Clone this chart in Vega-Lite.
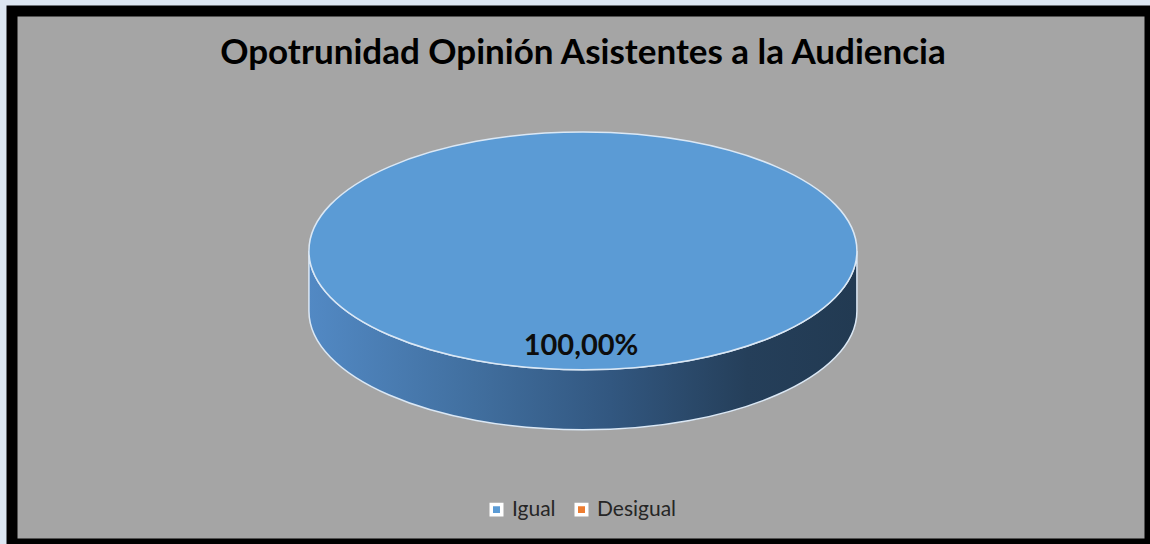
{
  "$schema": "https://vega.github.io/schema/vega-lite/v6.json",
  "autosize": "none",
  "width": 1138,
  "height": 533,
  "padding": {"left": 12, "top": 11, "right": 0, "bottom": 0},
  "background": "#dce6f2",
  "view": {"fill": "#a5a5a5", "stroke": "#000000", "strokeWidth": 11},
  "title": {
    "text": "Opotrunidad Opinión Asistentes a la Audiencia",
    "orient": "top",
    "anchor": "middle",
    "frame": "group",
    "offset": -41,
    "dy": 36,
    "baseline": "middle",
    "font": "Lato",
    "fontSize": 35,
    "fontWeight": "bold",
    "color": "#000000",
    "dx": 2
  },
  "data": {
    "values": [
      {"categoria": "Igual", "valor": 1.0},
      {"categoria": "Desigual", "valor": 0.0}
    ]
  },
  "layer": [
    {
      "mark": {
        "type": "point",
        "filled": true,
        "opacity": 1,
        "shape": "M -0.993 -0.097 L -0.993 0.122 A 1 0.434 0 0 0 1.007 0.122 L 1.007 -0.097 A 1 0.434 0 0 1 -0.993 -0.097 Z",
        "fill": {
          "gradient": "linear",
          "x1": 0, "y1": 0, "x2": 1, "y2": 0,
          "stops": [
            {"offset": 0, "color": "#5289c4"},
            {"offset": 0.3, "color": "#416f9f"},
            {"offset": 0.55, "color": "#325780"},
            {"offset": 0.8, "color": "#253f5a"},
            {"offset": 1, "color": "#223a52"}
          ]
        },
        "stroke": "#dbe8f5",
        "strokeWidth": 1.5
      },
      "encoding": {
        "size": {
          "field": "valor",
          "type": "quantitative",
          "scale": {"domain": [0, 1], "range": [0, 300304]},
          "legend": null
        }
      }
    },
    {
      "mark": {
        "type": "point",
        "filled": true,
        "opacity": 1,
        "shape": "M -0.993 -0.097 A 1 0.434 0 1 0 1.007 -0.097 A 1 0.434 0 1 0 -0.993 -0.097 Z",
        "stroke": "#dbe8f5",
        "strokeWidth": 1.5
      },
      "encoding": {
        "size": {
          "field": "valor",
          "type": "quantitative",
          "scale": {"domain": [0, 1], "range": [0, 300304]},
          "legend": null
        },
        "color": {
          "field": "categoria",
          "type": "nominal",
          "scale": {"domain": ["Igual", "Desigual"], "range": ["#5b9bd5", "#ed7d31"]},
          "legend": {
            "title": null,
            "orient": "none",
            "direction": "horizontal",
            "legendX": 474,
            "legendY": 488,
            "symbolType": "square",
            "symbolSize": 110,
            "symbolStrokeColor": "#ffffff",
            "symbolStrokeWidth": 3.5,
            "symbolOpacity": 1,
            "labelFont": "Lato",
            "labelFontSize": 21,
            "labelColor": "#262626",
            "labelOffset": 5,
            "columnPadding": 13
          }
        },
        "stroke": {"value": "#dbe8f5"}
      }
    },
    {
      "transform": [{"filter": "datum.valor > 0"}],
      "mark": {
        "type": "text",
        "dy": 68,
        "font": "Lato",
        "fontSize": 29,
        "fontWeight": "bold",
        "color": "#0d0d0d",
        "align": "center",
        "baseline": "middle"
      },
      "encoding": {
        "text": {"field": "valor", "type": "quantitative", "format": ".2%"}
      }
    }
  ],
  "config": {
    "locale": {
      "number": {"decimal": ",", "thousands": ".", "grouping": [3], "currency": ["", " €"]}
    }
  }
}
